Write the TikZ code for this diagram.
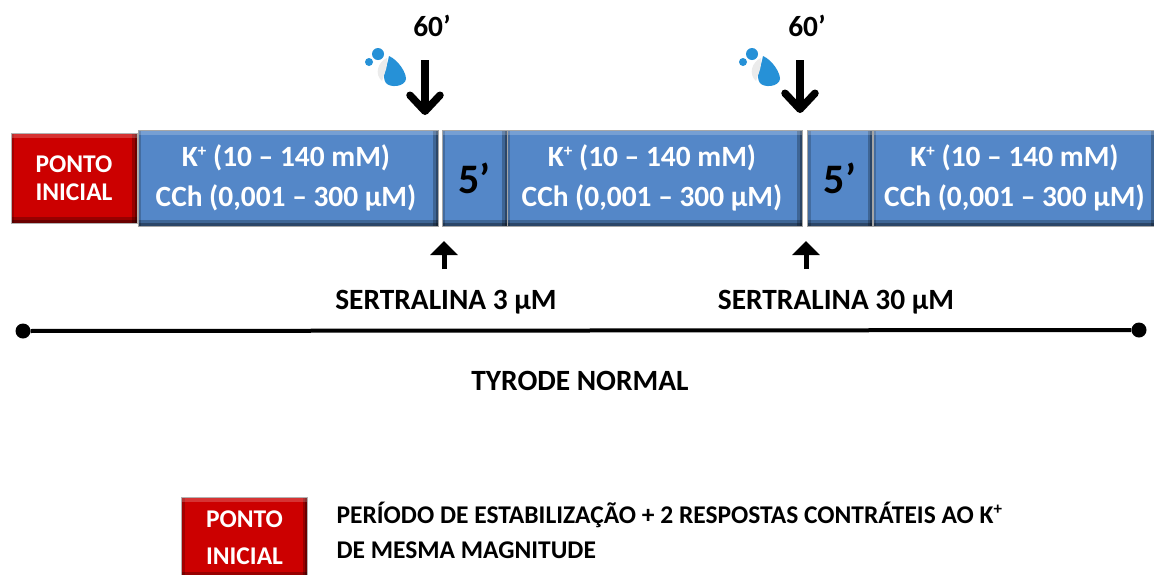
\documentclass[tikz,border=0pt]{standalone}
\usepackage{fontspec}
\setmainfont{Carlito}
\usetikzlibrary{arrows.meta}
\definecolor{boxblue}{RGB}{84,135,200}
\definecolor{boxred}{RGB}{204,0,0}
\definecolor{dropblue}{RGB}{38,145,215}
\tikzset{
    bevelbox/.style={rectangle, inner sep=0pt, align=center,
        path picture={
            \fill[black, opacity=.25] (path picture bounding box.south west) rectangle ([yshift=6pt]path picture bounding box.south east);
            \fill[black, opacity=.3] (path picture bounding box.south west) rectangle ([yshift=3pt]path picture bounding box.south east);
            \fill[black, opacity=.25] (path picture bounding box.north east) rectangle ([xshift=-5pt]path picture bounding box.south east);
            \fill[black, opacity=.3] (path picture bounding box.north east) rectangle ([xshift=-2.5pt]path picture bounding box.south east);
            \fill[black, opacity=.2] (path picture bounding box.north west) rectangle ([xshift=3pt]path picture bounding box.south west);
            \fill[white, opacity=.2] (path picture bounding box.north west) rectangle ([yshift=-5pt]path picture bounding box.north east);
        }},
    redbox/.style={bevelbox, fill=boxred, text=white, minimum width=126pt, draw=black!30, line width=.6pt, font=\bfseries\fontsize{25.5}{25.5}\selectfont},
    bluebox/.style={bevelbox, fill=boxblue, text=white, minimum height=96pt, draw=black!35, line width=.6pt, font=\bfseries\fontsize{29.4}{26}\selectfont},
    pausebox/.style={bluebox, text=black, font=\bfseries\fontsize{42}{42}\selectfont, minimum width=65pt},
    label/.style={font=\bfseries\fontsize{29.4}{29.4}\selectfont, text=black},
    bigarrow/.style={-{Straight Barb[length=16pt, width=30pt, line width=7.5pt, round]}, line width=7.5pt},
    smallarrow/.style={-{Triangle[length=14pt, width=27pt]}, line width=5pt}
}
\newcommand{\kplus}{K\raisebox{.7ex}{\fontsize{17}{17}\selectfont+}}
\newcommand{\dosetext}[1]{\hspace*{#1}\kplus{} (10 – 140 mM)\\[13pt]\hspace*{#1}CCh (0,001 – 300 µM)}
\newcommand{\waterdrop}[1]{%
    \fill[dropblue, shift={(#1)}] (-9,-26) .. controls (0,-22) and (8,-10) .. (8,-3)
        .. controls (7,5) and (-8,6) .. (-12,1) .. controls (-17,-6) and (-11,-14) .. (-9,-26);
    \fill[black!8, shift={(#1)}] (-11,-24) .. controls (-20,-20) and (-24,-8) .. (-16,-1) .. controls (-14,-8) and (-10,-14) .. (-11,-24);
    \fill[dropblue, shift={(#1)}] (-20,-28) circle (6);
    \fill[dropblue, shift={(#1)}] (-29,-20) circle (4);
}
\begin{document}
\begin{tikzpicture}[x=1pt, y=-1pt]
    \useasboundingbox (0,0) rectangle (1154,574);
    \fill[white] (0,0) rectangle (1154,574);
    % timeline boxes
    \node[redbox, minimum height=90pt](start) at (74,178) {PONTO\\[3pt]INICIAL};
    \node[bluebox, minimum width=300pt](dose1) at (288,178) {\dosetext{-4pt}};
    \node[pausebox](pause1) at (474.5,178) {5’};
    \node[bluebox, minimum width=295pt](dose2) at (654.5,178) {\dosetext{-5pt}};
    \node[pausebox](pause2) at (840,178) {5’};
    \node[bluebox, minimum width=283pt](dose3) at (1014.5,178) {\dosetext{0pt}};
    % washes
    \node[label](wash1) at (432,26) {60’};
    \node[label](wash2) at (807,26) {60’};
    \coordinate (washtop1) at (425,60);
    \coordinate (washend1) at (425,115);
    \coordinate (washtop2) at (800,60);
    \coordinate (washend2) at (800,113);
    \draw[bigarrow] (washtop1) -- (washend1);
    \draw[bigarrow] (washtop2) -- (washend2);
    \waterdrop{398,82}
    \waterdrop{772,82}
    % drugs
    \node[label](drug1) at (446,302) {SERTRALINA 3 µM};
    \node[label](drug2) at (836,302) {SERTRALINA 30 µM};
    \coordinate (drugtop1) at (444,269);
    \coordinate (drugend1) at (444,241);
    \coordinate (drugtop2) at (806,269);
    \coordinate (drugend2) at (806,241);
    \draw[smallarrow] (drugtop1) -- (drugend1);
    \draw[smallarrow] (drugtop2) -- (drugend2);
    % time axis
    \node[circle, fill=black, inner sep=0pt, minimum size=15pt](axisl) at (23,331) {};
    \node[circle, fill=black, inner sep=0pt, minimum size=15pt](axisr) at (1139,330) {};
    \draw[line width=4pt] (axisl) -- (axisr);
    \node[label](buffer) at (580,381) {TYRODE NORMAL};
    % legend
    \node[redbox, minimum height=81pt](legendbox) at (244.5,537.5) {PONTO\\[11pt]INICIAL};
    \node[anchor=west, align=left, font=\bfseries\fontsize{25.5}{25.5}\selectfont](legendtext) at (333,530.5) {PERÍODO DE ESTABILIZAÇÃO + 2 RESPOSTAS CONTRÁTEIS AO \kplus\\[10pt]DE MESMA MAGNITUDE};
\end{tikzpicture}
\end{document}
